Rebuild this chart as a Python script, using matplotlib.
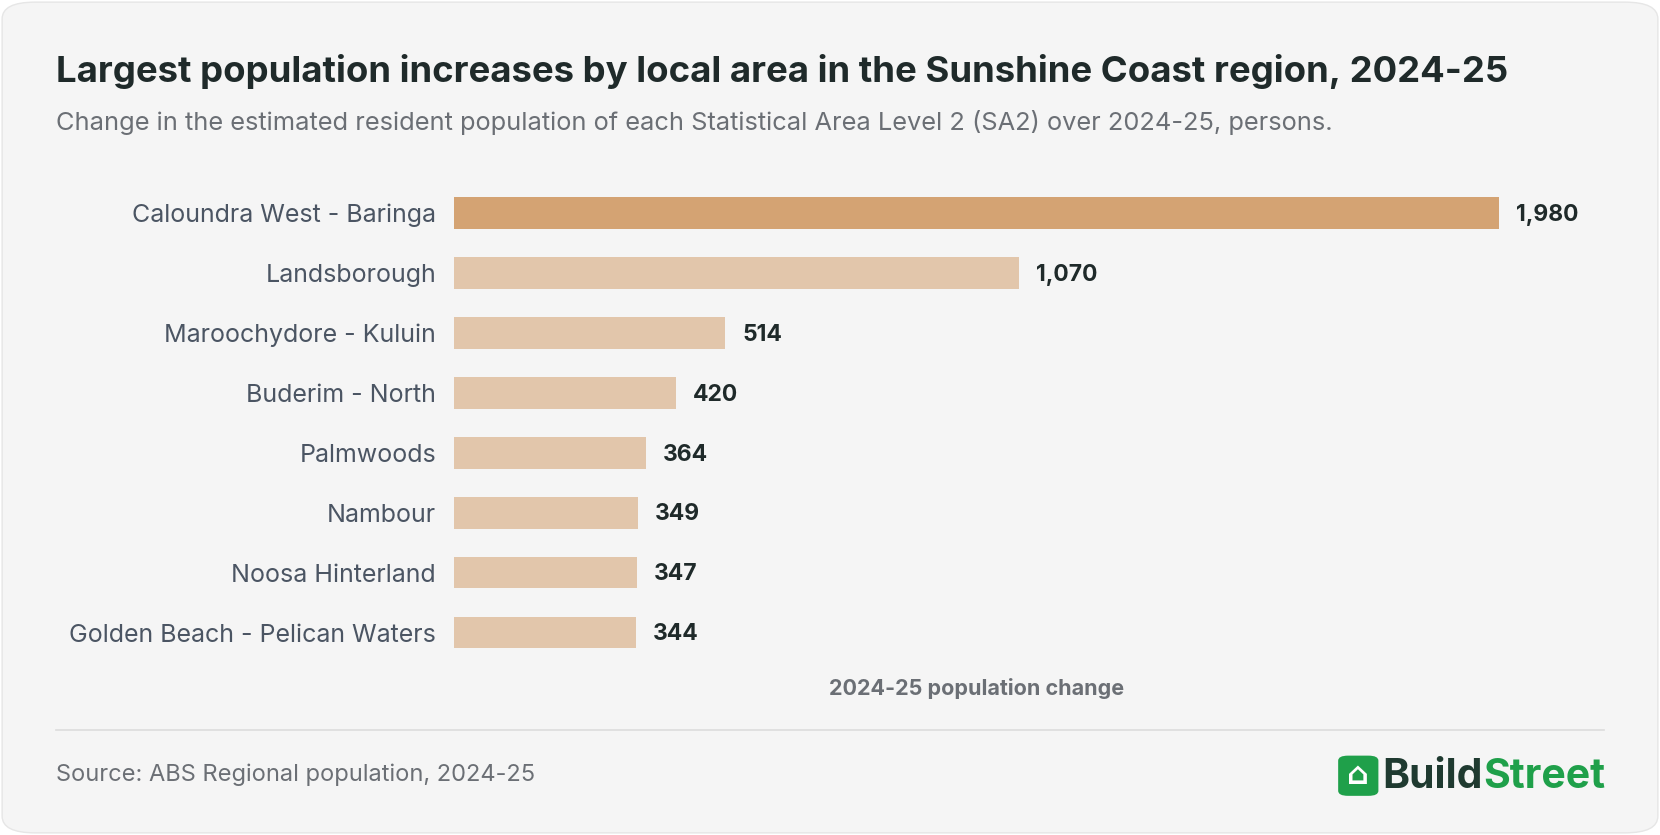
import matplotlib
matplotlib.use("Agg")
import matplotlib.pyplot as plt
from matplotlib.patches import FancyBboxPatch

areas = ["Caloundra West - Baringa", "Landsborough", "Maroochydore - Kuluin", "Buderim - North",
         "Palmwoods", "Nambour", "Noosa Hinterland", "Golden Beach - Pelican Waters"]
values = [1980, 1070, 514, 420, 364, 349, 347, 344]

plt.rcParams['font.family'] = ['Inter', 'DejaVu Sans']
W, H = 1568, 789
fig = plt.figure(figsize=(16.6, 8.35), dpi=100)
fig.patch.set_facecolor('white')
card = FancyBboxPatch((2/W, 2/H), 1-4/W, 1-4/H, boxstyle="round,pad=0,rounding_size=0.02",
                      transform=fig.transFigure, facecolor='#f5f5f5', edgecolor='#e6e6e6', lw=1, zorder=-10)
fig.patches.append(card)

def fx(x): return x / W
def fy(y): return 1 - y / H

fig.text(fx(53), fy(68), "Largest population increases by local area in the Sunshine Coast region, 2024-25",
         fontsize=26.3, fontweight='bold', color='#1f2a2a', va='center')
fig.text(fx(53), fy(116), "Change in the estimated resident population of each Statistical Area Level 2 (SA2) over 2024-25, persons.",
         fontsize=18.3, color='#6b6f75', va='center')

ax = fig.add_axes([fx(429), fy(626), (1520-429)/W, (626-173)/H])
ax.set_zorder(5)
ax.set_facecolor('none')
xmax = 1091/987*1980
ax.set_xlim(0, xmax)
ax.set_ylim(7.5, -0.5)
colors = ['#d4a373'] + ['#e2c6ab'] * 7
for i, (a, v) in enumerate(zip(areas, values)):
    ax.barh(i, v, height=0.53, color=colors[i])
    ax.text(v + 32, i + 0.03, f"{v:,}", va='center', ha='left', fontsize=16.5, fontweight='bold', color='#1f2a2a')
ax.set_yticks(range(len(areas)))
ax.set_yticklabels(areas, fontsize=18, color='#4b5563')
ax.tick_params(axis='y', length=0, pad=13)
ax.set_xticks([])
for s in ax.spines.values():
    s.set_visible(False)

fig.text(fx(922), fy(651), "2024-25 population change", fontsize=15.5, fontweight='bold', color='#6b6f75', ha='center', va='center')
fig.add_artist(plt.Line2D([fx(53), fx(1515)], [fy(690), fy(690)], color='#dcdcdc', lw=1.2))
fig.text(fx(53), fy(732), "Source: ABS Regional population, 2024-25", fontsize=17, color='#6b6f75', va='center')

# logo
logo = FancyBboxPatch((fx(1264), fy(752)), 38/W, 38/H, boxstyle="round,pad=0,rounding_size=0.006",
                      transform=fig.transFigure, facecolor='#1fa04a', edgecolor='none')
fig.patches.append(logo)
fig.text(fx(1283), fy(733), "⌂", fontsize=22, color='white', ha='center', va='center', fontweight='bold')
t = fig.text(fx(1306), fy(734), "Build", fontsize=29.5, fontweight='bold', color='#1f3a30', va='center')
fig.canvas.draw()
bb = t.get_window_extent()
fig.text(bb.x1 / fig.bbox.width, fy(734), "Street", fontsize=29.5, fontweight='bold', color='#1fa04a', va='center')

fig.savefig("out.png", dpi=100, facecolor='white')
